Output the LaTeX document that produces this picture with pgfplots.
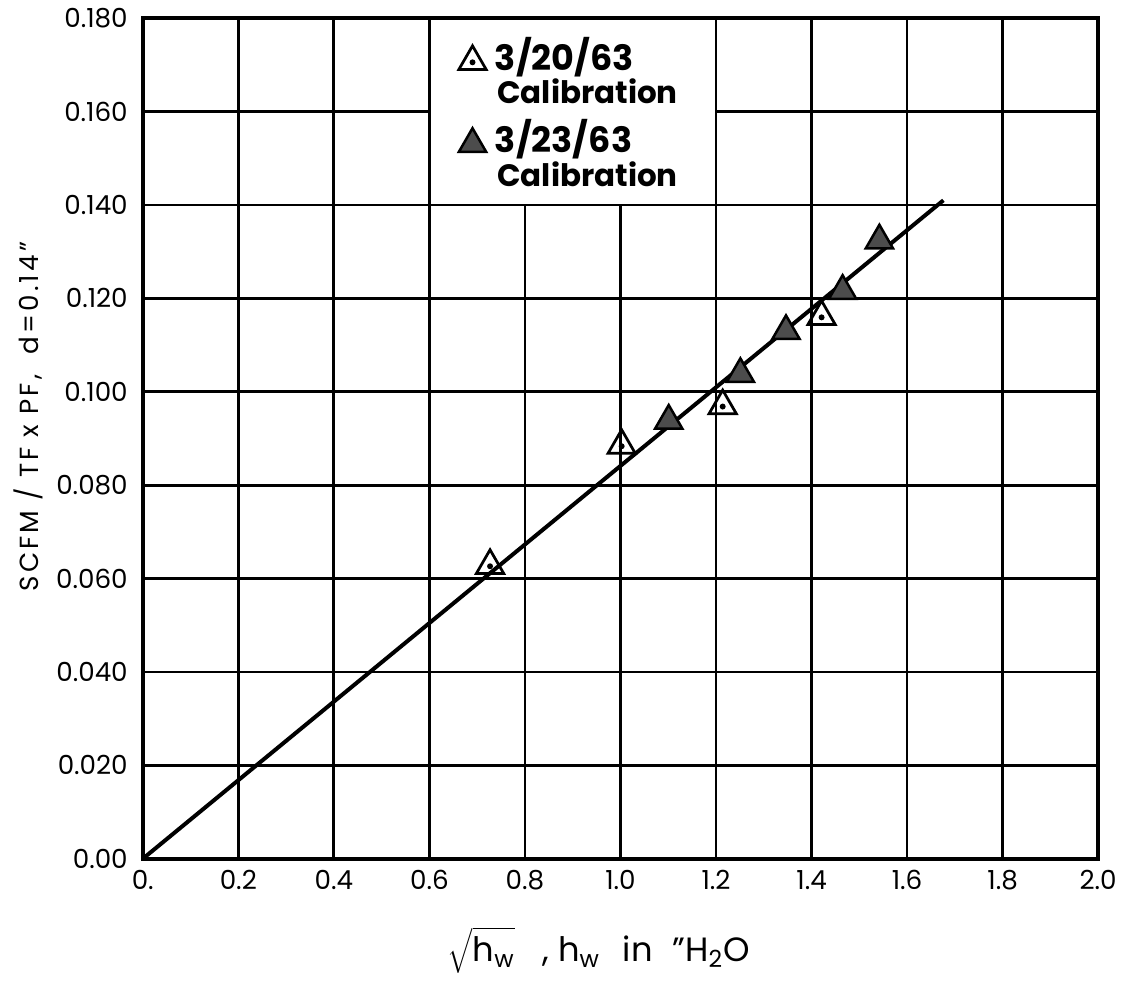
\documentclass[border=0pt]{standalone}
\usepackage{fontspec}
\setmainfont{Poppins}
\usepackage{pgfplots}
\pgfplotsset{compat=1.18}
\pgfdeclareplotmark{tridot}{%
  \pgfuseplotmark{triangle}%
  \pgfsetfillcolor{black}%
  \pgfpathcircle{\pgfpoint{0pt}{-0.3pt}}{1.2pt}\pgfusepathqfill}
\newcommand{\dateline}[2]{\raisebox{0pt}[#2][1.6pt]{\hspace{2.5pt}\fontsize{14}{14}\selectfont\bfseries #1}}
\newcommand{\calline}{\raisebox{0pt}[10pt][7pt]{\hspace{3.5pt}\fontsize{12.4}{13}\selectfont\bfseries Calibration}}
\begin{document}
\begin{tikzpicture}
\begin{axis}[
  scale only axis,
  width=382.8pt, height=336.8pt,
  xmin=0, xmax=2.0, ymin=0, ymax=0.18,
  xtick={0,0.2,0.4,0.6,0.8,1.0,1.2,1.4,1.6,1.8,2.0},
  xticklabels={0.,0.2,0.4,0.6,0.8,1.0,1.2,1.4,1.6,1.8,2.0},
  ytick={0,0.02,0.04,0.06,0.08,0.10,0.12,0.14,0.16,0.18},
  yticklabels={0.00,0.020,0.040,0.060,0.080,0.100,0.120,0.140,0.160,0.180},
  major tick length=0pt,
  grid=major,
  major grid style={black, line width=1.1pt},
  axis line style={black, line width=1.4pt},
  tick label style={font=\fontsize{10.5}{12}\selectfont},
  yticklabel style={xshift=-2.5pt},
  xticklabel style={yshift=-1pt},
  xlabel={$\sqrt{\vphantom{\Big|}\mbox{h\textsubscript{w}}}$\hspace{11pt}, h\textsubscript{w}\hspace{9pt}in\hspace{8pt}\symbol{34}H\textsubscript{2}O},
  xlabel style={font=\fontsize{13.5}{15}\selectfont, at={(axis description cs:0.4775,-0.109)}, anchor=center},
  ylabel={\addfontfeature{LetterSpace=12}SCFM / TF x PF,\ \ d=0.14\symbol{34}},
  ylabel style={font=\fontsize{10.5}{12}\selectfont, at={(axis description cs:-0.120,0.526)}, anchor=center, rotate=0},
  legend image code/.code={\draw[#1] plot coordinates {(0.28cm,0.12cm)};},
  legend style={at={(axis description cs:0.3238,0.9727)}, anchor=north west,
    draw=none, fill=none, inner sep=0pt, row sep=0pt,
    nodes={inner sep=1pt, anchor=base west}},
]
\filldraw[fill=white, draw=black, line width=1.1pt] (axis cs:0.6,0.14) rectangle (axis cs:1.2,0.18);
\addplot[black, line width=1.6pt, forget plot] coordinates {(0,0) (1.676,0.141)};
\addplot[only marks, mark=tridot, mark size=6.3pt, mark options={black, line width=1.1pt, fill=white}]
  coordinates {(0.727,0.0628) (1.0025,0.0885) (1.214,0.0970) (1.421,0.1161)};
\addlegendentry{\dateline{3/20/63}{10.4pt}}
\addlegendimage{empty legend}
\addlegendentry{\calline}
\addplot[only marks, mark=triangle*, mark size=6.3pt, mark options={draw=black, line width=1pt, fill=black!70}]
  coordinates {(1.101,0.0938) (1.251,0.1038) (1.3465,0.1130) (1.465,0.1216) (1.542,0.1324)};
\addlegendentry{\dateline{3/23/63}{16pt}}
\addlegendimage{empty legend}
\addlegendentry{\calline}
\coordinate (O) at (rel axis cs:0,0);
\end{axis}
\path (O) ++(-57.2pt,-47.6pt) rectangle ++(450pt,391.6pt);
\end{tikzpicture}
\end{document}
